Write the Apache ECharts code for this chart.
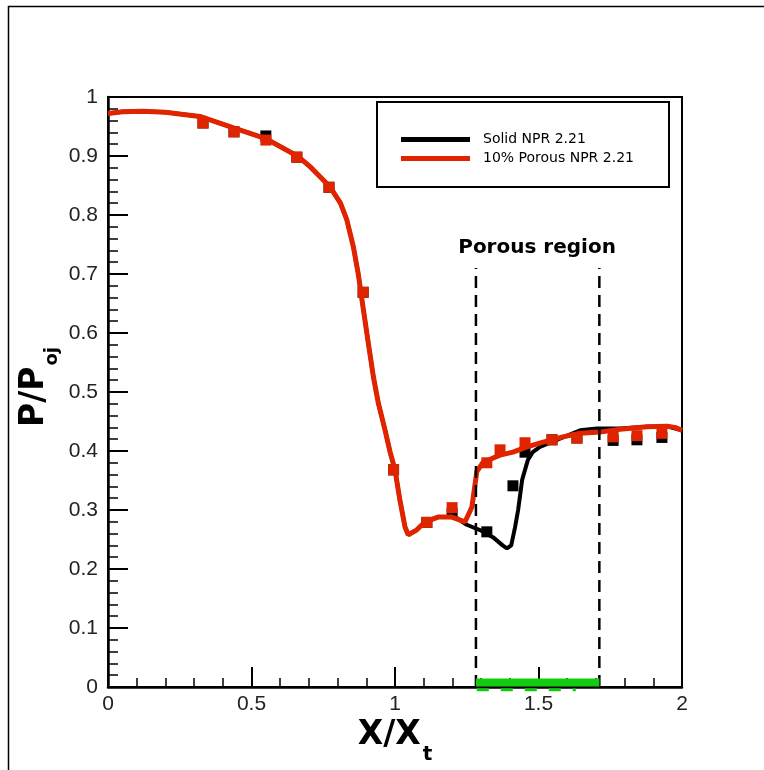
<!DOCTYPE html>
<html>
<head>
<meta charset="utf-8">
<script src="https://cdn.jsdelivr.net/npm/echarts@6/dist/echarts.min.js"></script>
<style>
html,body{margin:0;padding:0;background:#fff;}
#chart{width:764px;height:770px;}
</style>
</head>
<body>
<div id="chart"></div>
<script>
// ---- Data ----
const porousCurve = [
  [0,0.972],[0.05,0.975],[0.12,0.976],[0.2,0.974],[0.32,0.967],[0.435,0.948],[0.547,0.930],
  [0.66,0.900],[0.704,0.882],[0.739,0.865],[0.773,0.848],[0.81,0.82],[0.832,0.792],[0.855,0.746],
  [0.872,0.70],[0.89,0.639],[0.907,0.583],[0.925,0.525],[0.942,0.481],[0.965,0.436],[0.983,0.398],
  [1.0,0.368],[1.017,0.317],[1.035,0.271],[1.046,0.258],[1.075,0.266],[1.105,0.28],[1.15,0.288],
  [1.198,0.288],[1.244,0.28],[1.268,0.305],[1.285,0.365],[1.307,0.381],[1.366,0.393],[1.411,0.398],
  [1.46,0.407],[1.516,0.415],[1.585,0.424],[1.645,0.43],[1.714,0.432],[1.784,0.437],[1.878,0.441],
  [1.948,0.442],[1.975,0.44],[2.0,0.435]
];
const solidCurve = [
  [0,0.972],[0.05,0.975],[0.12,0.976],[0.2,0.974],[0.32,0.967],[0.435,0.948],[0.547,0.930],
  [0.66,0.900],[0.704,0.882],[0.739,0.865],[0.773,0.848],[0.81,0.82],[0.832,0.792],[0.855,0.746],
  [0.872,0.70],[0.89,0.639],[0.907,0.583],[0.925,0.525],[0.942,0.481],[0.965,0.436],[0.983,0.398],
  [1.0,0.368],[1.017,0.317],[1.035,0.271],[1.046,0.258],[1.075,0.266],[1.105,0.28],[1.15,0.288],
  [1.198,0.288],[1.216,0.286],[1.25,0.275],[1.296,0.266],[1.341,0.254],[1.375,0.24],[1.39,0.235],
  [1.405,0.24],[1.418,0.27],[1.429,0.3],[1.443,0.351],[1.463,0.385],[1.48,0.398],[1.505,0.407],
  [1.564,0.419],[1.645,0.435],[1.704,0.438],[1.784,0.438],[1.878,0.441],[1.948,0.442],[2.0,0.435]
];
const porousPoints = [
  [0.331,0.956],[0.439,0.941],[0.55,0.927],[0.658,0.898],[0.77,0.847],[0.889,0.669],[0.995,0.368],
  [1.111,0.279],[1.199,0.304],[1.32,0.38],[1.366,0.402],[1.453,0.414],[1.547,0.419],[1.634,0.422],
  [1.76,0.424],[1.843,0.426],[1.93,0.43]
];
const solidPoints = [
  [0.331,0.956],[0.439,0.941],[0.55,0.934],[0.658,0.898],[0.77,0.847],[0.889,0.669],[0.995,0.368],
  [1.111,0.279],[1.199,0.294],[1.32,0.263],[1.411,0.341],[1.453,0.398],[1.547,0.419],[1.634,0.422],
  [1.76,0.418],[1.843,0.419],[1.93,0.423]
];
const porousStart = 1.282;
const porousEnd = 1.712;
const dashTop = 0.71;
const greenDashEnd = 1.63;
const regionLabel = 'Porous region';
const regionLabelPos = [1.495, 0.745];
const seriesNames = ['Solid NPR 2.21', '10% Porous NPR 2.21'];

const RED = '#e02400';
const BLACK = '#000000';
const GREEN = '#12cc12';

const chart = echarts.init(document.getElementById('chart'), null, {renderer: 'canvas'});
const labelFont = {fontFamily: 'Liberation Sans, Arial, sans-serif', fontSize: 21, color: '#222'};
const nameFont = 'DejaVu Sans, sans-serif';

chart.setOption({
  animation: false,
  backgroundColor: '#fff',
  grid: {left: 108, right: 82, top: 97, bottom: 83, show: true, borderColor: '#000', borderWidth: 2, outerBoundsMode: 'none'},
  legend: {
    data: seriesNames,
    orient: 'vertical',
    left: 377, top: 102,
    icon: 'rect',
    itemWidth: 69, itemHeight: 5, itemGap: 4,
    padding: [30, 16, 21, 24],
    borderColor: '#000', borderWidth: 2,
    textStyle: {fontFamily: 'DejaVu Sans, sans-serif', fontSize: 14, color: '#000', lineHeight: 15, width: 170, padding: [0, 0, 0, 8]}
  },
  xAxis: {
    type: 'value', min: 0, max: 2, interval: 0.5,
    name: '{a|X/X}{b|t}', nameLocation: 'middle', nameGap: 18, nameMoveOverlap: false,
    nameTextStyle: {rich: {
      a: {fontFamily: nameFont, fontWeight: 'bold', fontSize: 33, color: '#000'},
      b: {fontFamily: nameFont, fontWeight: 'bold', fontSize: 20, color: '#000', padding: [40, 0, 0, 2]}
    }},
    axisLine: {show: true, onZero: false, lineStyle: {color: '#000', width: 2.5}},
    axisTick: {show: true, inside: true, length: 20, lineStyle: {color: '#000', width: 2}},
    minorTick: {show: true, splitNumber: 5, length: 9, lineStyle: {color: '#000', width: 1.5}},
    splitLine: {show: false},
    axisLabel: Object.assign({margin: 7}, labelFont)
  },
  yAxis: {
    type: 'value', min: 0, max: 1, interval: 0.1,
    name: '{a|P/P}{b|oj}', nameLocation: 'middle', nameGap: 47, nameMoveOverlap: false,
    nameTextStyle: {padding: [0, 0, 0, 10], rich: {
      a: {fontFamily: nameFont, fontWeight: 'bold', fontSize: 33, color: '#000'},
      b: {fontFamily: nameFont, fontWeight: 'bold', fontSize: 18, color: '#000', padding: [36, 0, 0, 1]}
    }},
    axisLine: {show: true, onZero: false, lineStyle: {color: '#000', width: 2.5}},
    axisTick: {show: true, inside: true, length: 20, lineStyle: {color: '#000', width: 2}},
    minorTick: {show: true, splitNumber: 5, length: 10, lineStyle: {color: '#000', width: 1.5}},
    splitLine: {show: false},
    axisLabel: Object.assign({margin: 10}, labelFont)
  },
  graphic: [{
    type: 'polyline', silent: true, z: 100,
    shape: {points: [[8.5, 770], [8.5, 6.5], [764, 6.5]]},
    style: {stroke: '#000', lineWidth: 1.5, fill: null}
  }],
  series: [
    {name: seriesNames[0], type: 'line', data: solidCurve, symbol: 'none', z: 2,
     lineStyle: {color: BLACK, width: 4}, itemStyle: {color: BLACK}},
    {name: 'solid-data', type: 'scatter', data: solidPoints, symbol: 'rect', symbolSize: 11, z: 3,
     itemStyle: {color: BLACK, opacity: 1}},
    {name: seriesNames[1], type: 'line', data: porousCurve, symbol: 'none', z: 4,
     lineStyle: {color: RED, width: 5}, itemStyle: {color: RED}},
    {name: 'porous-data', type: 'scatter', data: porousPoints, symbol: 'rect', symbolSize: 11, z: 5,
     itemStyle: {color: RED, opacity: 1}},
    {name: 'dash-start', type: 'line', data: [[porousStart, 0], [porousStart, dashTop]], symbol: 'none', z: 6,
     lineStyle: {color: '#000', width: 2.5, type: [12, 7]}},
    {name: 'dash-end', type: 'line', data: [[porousEnd, 0], [porousEnd, dashTop]], symbol: 'none', z: 6,
     lineStyle: {color: '#000', width: 2.5, type: [12, 7]}},
    {name: 'porous-bar', type: 'line', data: [[porousStart, 0.0075], [porousEnd, 0.0075]], symbol: 'none', z: 7,
     lineStyle: {color: GREEN, width: 8, cap: 'butt'}},
    {name: 'porous-bar-under', type: 'line', data: [[porousStart + 0.003, -0.0045], [greenDashEnd, -0.0045]],
     symbol: 'none', z: 7, clip: false,
     lineStyle: {color: GREEN, width: 3, type: [12, 12], cap: 'butt'}},
    {name: 'region-label', type: 'scatter', data: [regionLabelPos], symbol: 'circle', symbolSize: 1, z: 8,
     itemStyle: {color: '#ffffff', opacity: 1},
     label: {show: true, position: 'inside', formatter: regionLabel, opacity: 1,
             fontFamily: 'DejaVu Sans, sans-serif', fontWeight: 'bold', fontSize: 20, color: '#000',
             textBorderWidth: 0}}
  ]
});
</script>
</body>
</html>
